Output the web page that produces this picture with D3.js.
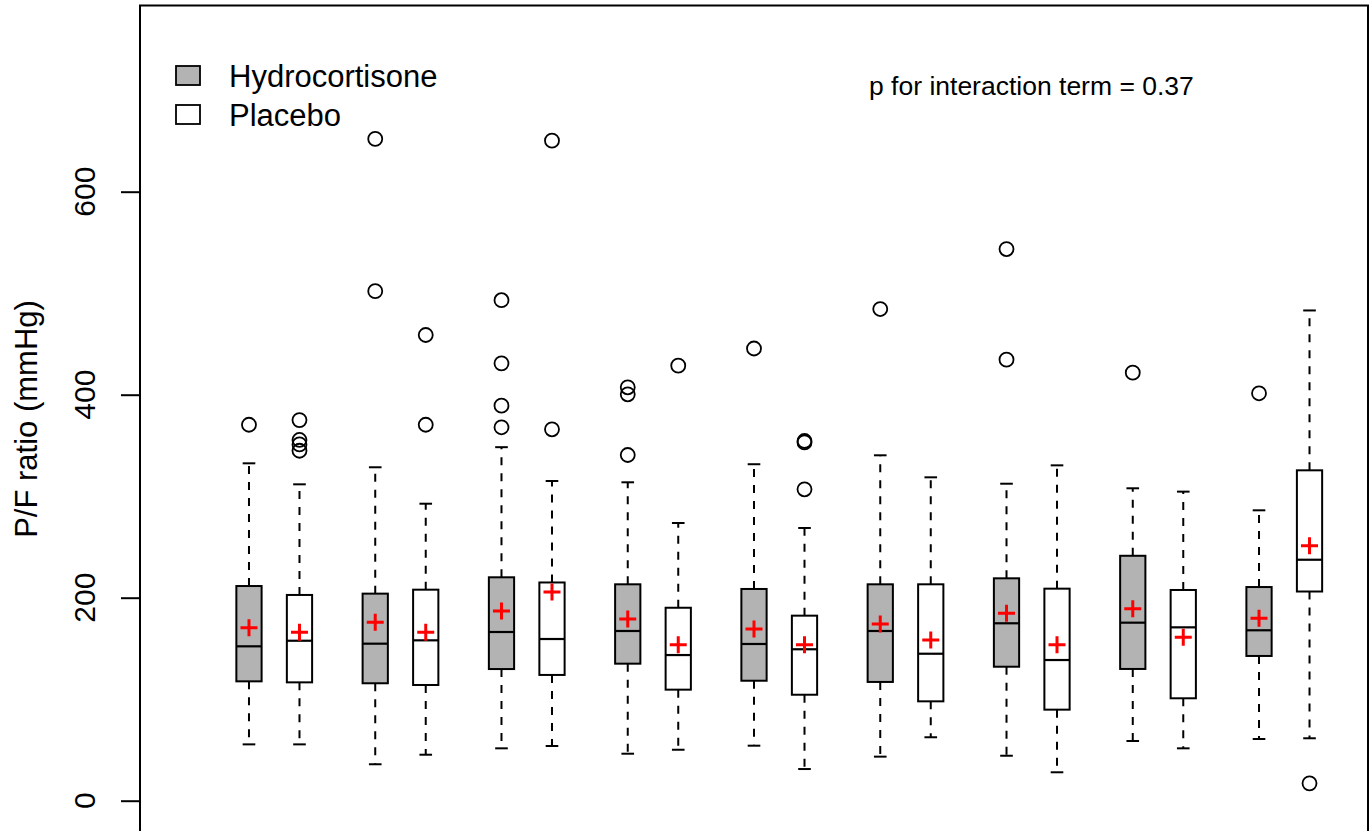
<!DOCTYPE html>
<html>
<head>
<meta charset="utf-8">
<script src="https://cdn.jsdelivr.net/npm/d3@7"></script>
<style>
  html, body { margin: 0; padding: 0; background: #fff; }
  svg { display: block; }
  text { font-family: "Liberation Sans", Arial, Helvetica, sans-serif; fill: #000; }
</style>
</head>
<body>
<svg id="chart" width="1369" height="831"></svg>
<script>
// ---- data ----
const groups = ["1", "2", "3", "4", "5", "6", "7", "8", "9"];
const series = ["Hydrocortisone", "Placebo"];
const yTicks = [0, 200, 400, 600];

// Hydrocortisone
const hydroLow    = [55.5, 35.9, 51.6, 46.3, 54.2, 43.4, 44.3, 58.8, 60.8];
const hydroQ1     = [117.6, 115.7, 129.7, 135.0, 118.2, 117.0, 132.0, 129.8, 142.6];
const hydroMedian = [152.1, 154.7, 166.2, 167.2, 154.4, 167.2, 174.8, 175.4, 167.9];
const hydroQ3     = [211.5, 204.0, 220.1, 213.2, 208.6, 213.2, 219.1, 241.3, 210.5];
const hydroHigh   = [332.4, 328.5, 348.3, 313.7, 331.5, 340.3, 312.3, 307.8, 286.1];
const hydroMean   = [170.4, 175.8, 186.9, 179.0, 169.2, 174.1, 184.6, 189.0, 179.7];
const hydroOut    = [[370.4], [652, 502], [493.1, 430.9, 389.2, 367.9], [407.3, 400.4, 340.6],
                     [445.5], [484.4], [543.5, 434.5], [421.7], [401.4]];

// Placebo
const placLow    = [55.5, 45.3, 53.9, 50.2, 31.2, 62.5, 28.0, 51.6, 61.5];
const placQ1     = [116.6, 114.0, 123.9, 109.4, 104.4, 97.9, 89.7, 100.9, 206.1];
const placMedian = [157.6, 158.0, 159.3, 143.5, 149.2, 144.8, 138.6, 170.8, 237.4];
const placQ3     = [202.7, 207.9, 215.0, 190.1, 182.3, 213.2, 208.9, 207.6, 325.5];
const placHigh   = [311.7, 292.6, 315.0, 273.6, 268.7, 318.6, 330.4, 304.5, 483.0];
const placMean   = [165.9, 165.9, 205.6, 153.7, 153.7, 158.3, 153.7, 161.0, 251.2];
const placOut    = [[375, 355.4, 351, 344.8], [458.8, 370.4], [650.3, 365.9], [428.6],
                    [354.4, 353, 306.8], [], [], [], [17.1]];

const annotation = "p for interaction term = 0.37";
const yTitle = "P/F ratio (mmHg)";

// ---- build box table ----
const boxes = [];
groups.forEach((g, i) => {
  boxes.push({pos: 1 + 2.5 * i, fill: "#b3b3b3", low: hydroLow[i], q1: hydroQ1[i], med: hydroMedian[i],
              q3: hydroQ3[i], high: hydroHigh[i], mean: hydroMean[i], out: hydroOut[i]});
  boxes.push({pos: 2 + 2.5 * i, fill: "#ffffff", low: placLow[i], q1: placQ1[i], med: placMedian[i],
              q3: placQ3[i], high: placHigh[i], mean: placMean[i], out: placOut[i]});
});

// ---- layout ----
const svg = d3.select("#chart");
const plotL = 140, plotR = 1368, plotT = 5.5, plotB = 833;
const x = d3.scaleLinear().domain([-1.158, 23.158]).range([plotL, plotR]);
const y = d3.scaleLinear().domain([0, 600]).range([800.7, 191.7]);
const unit = x(1) - x(0);
const boxW = 0.5 * unit;
const capW = 0.25 * unit;

// frame
svg.append("rect").attr("x", plotL).attr("y", plotT).attr("width", plotR - plotL).attr("height", plotB - plotT)
  .attr("fill", "none").attr("stroke", "#000").attr("stroke-width", 2);

// y axis
const yAxis = d3.axisLeft(y).tickValues(yTicks).tickSize(19).tickFormat("");
const ag = svg.append("g").attr("transform", `translate(${plotL},0)`).call(yAxis);
ag.select(".domain").remove();
ag.selectAll(".tick line").attr("stroke", "#000").attr("stroke-width", 2);
svg.append("g").selectAll("text").data(yTicks).join("text")
  .attr("transform", d => `translate(95,${y(d)}) rotate(-90)`)
  .attr("text-anchor", "middle")
  .attr("font-size", 30)
  .text(d => d);

svg.append("text")
  .attr("transform", `translate(37,419) rotate(-90)`)
  .attr("text-anchor", "middle")
  .attr("font-size", 31)
  .text(yTitle);

// boxes
const bg = svg.append("g");
boxes.forEach(b => {
  const cx = x(b.pos);
  const g = bg.append("g");
  // whiskers
  g.append("line").attr("x1", cx).attr("x2", cx).attr("y1", y(b.q3)).attr("y2", y(b.high))
    .attr("stroke", "#000").attr("stroke-width", 2).attr("stroke-dasharray", "8,8");
  g.append("line").attr("x1", cx).attr("x2", cx).attr("y1", y(b.q1)).attr("y2", y(b.low))
    .attr("stroke", "#000").attr("stroke-width", 2).attr("stroke-dasharray", "8,8");
  // staples
  [b.high, b.low].forEach(v => {
    g.append("line").attr("x1", cx - capW / 2).attr("x2", cx + capW / 2).attr("y1", y(v)).attr("y2", y(v))
      .attr("stroke", "#000").attr("stroke-width", 2);
  });
  // box
  g.append("rect").attr("x", cx - boxW / 2).attr("y", y(b.q3)).attr("width", boxW)
    .attr("height", y(b.q1) - y(b.q3)).attr("fill", b.fill).attr("stroke", "#000").attr("stroke-width", 2);
  // median
  g.append("line").attr("x1", cx - boxW / 2).attr("x2", cx + boxW / 2).attr("y1", y(b.med)).attr("y2", y(b.med))
    .attr("stroke", "#000").attr("stroke-width", 2.2);
  // outliers
  g.selectAll("circle").data(b.out).join("circle")
    .attr("cx", cx).attr("cy", d => y(d)).attr("r", 7)
    .attr("fill", "none").attr("stroke", "#000").attr("stroke-width", 1.8);
  // mean marker (+)
  const my = y(b.mean), s = 8.5;
  g.append("path").attr("d", `M${cx - s},${my}H${cx + s}M${cx},${my - s}V${my + s}`)
    .attr("stroke", "#ff0000").attr("stroke-width", 3).attr("fill", "none");
});

// legend
const legend = svg.append("g");
const legFills = ["#b3b3b3", "#ffffff"];
series.forEach((s, i) => {
  const yy = 66 + i * 39;
  legend.append("rect").attr("x", 176).attr("y", yy).attr("width", 24).attr("height", 19)
    .attr("fill", legFills[i]).attr("stroke", "#000").attr("stroke-width", 1.8);
  legend.append("text").attr("x", 229).attr("y", yy + 20.5).attr("font-size", 31).text(s);
});

// annotation
svg.append("text").attr("x", 869).attr("y", 95).attr("font-size", 26.5).text(annotation);
</script>
</body>
</html>
